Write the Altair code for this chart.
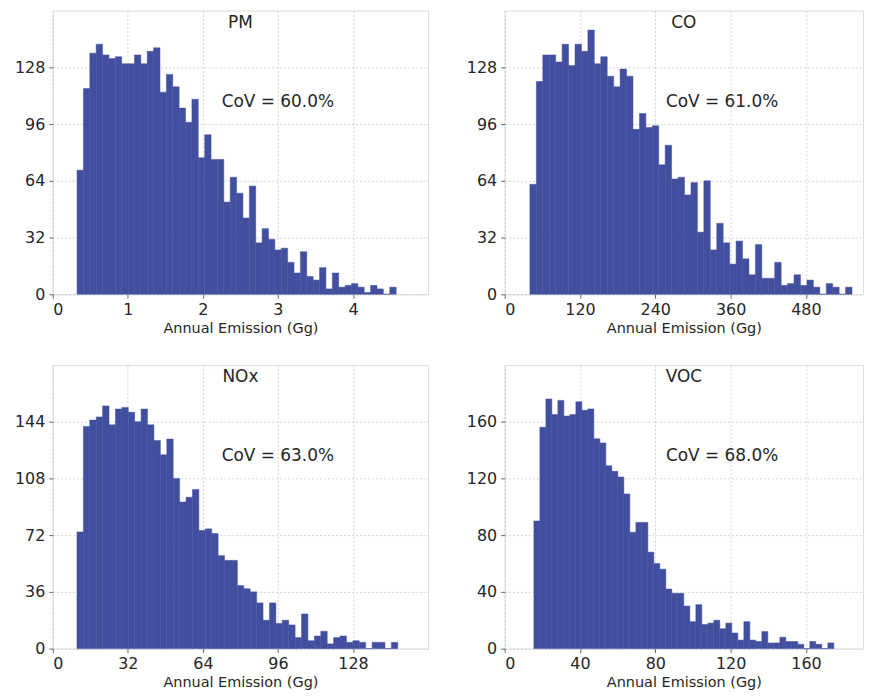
import altair as alt
import numpy as np
import pandas as pd

# ---- data (histogram counts, 50 bins each) ----
pm_counts = [70, 116, 136, 141, 135, 133, 134, 130, 130, 135, 130, 137, 139, 114, 124,
             117, 105, 97, 110, 77, 90, 76, 76, 52, 66, 57, 43, 61, 29, 37,
             31, 25, 26, 18, 12, 24, 10, 8, 15, 3, 12, 4, 5, 6, 4,
             1, 5, 3, 0, 4]
co_counts = [62, 120, 135, 135, 131, 141, 129, 141, 137, 149, 130, 134, 123, 117, 127,
             123, 93, 102, 94, 95, 73, 84, 65, 66, 56, 63, 35, 64, 25, 40,
             29, 17, 30, 20, 11, 28, 9, 9, 18, 5, 6, 11, 5, 8, 4,
             0, 6, 4, 0, 4]
nox_counts = [74, 141, 145, 147, 154, 142, 152, 153, 150, 144, 152, 142, 132, 123, 133,
              108, 93, 96, 101, 75, 76, 73, 59, 56, 56, 40, 38, 36, 29, 18,
              29, 16, 18, 15, 7, 22, 5, 8, 11, 3, 7, 8, 4, 5, 4,
              0, 4, 4, 0, 4]
voc_counts = [90, 156, 176, 165, 175, 164, 165, 174, 168, 169, 148, 145, 129, 125, 121,
              109, 82, 89, 89, 68, 60, 56, 42, 39, 39, 30, 19, 31, 17, 18,
              20, 14, 18, 11, 6, 19, 6, 5, 12, 4, 4, 8, 5, 5, 3,
              0, 5, 3, 0, 4]

panel_names = ["PM", "CO", "NOx", "VOC"]
cov_labels = ["CoV = 60.0%", "CoV = 61.0%", "CoV = 63.0%", "CoV = 68.0%"]
bin_ranges = [(0.323, 4.575), (40.2, 553.5), (10.3, 147.1), (15.5, 174.8)]
x_max = [5, 571, 160, 190.3]
x_ticks = [[0, 1, 2, 3, 4], [0, 120, 240, 360, 480], [0, 32, 64, 96, 128], [0, 40, 80, 120, 160]]
y_max = [160, 160, 180, 200]
y_ticks = [[0, 32, 64, 96, 128], [0, 32, 64, 96, 128], [0, 36, 72, 108, 144], [0, 40, 80, 120, 160]]
x_title = "Annual Emission (Gg)"

all_counts = [pm_counts, co_counts, nox_counts, voc_counts]

FONT = "DejaVu Sans"
TXT = "#262626"
BAR = "#424f9f"
H = 285


def panel(i, width):
    counts = all_counts[i]
    lo, hi = bin_ranges[i]
    edges = np.linspace(lo, hi, len(counts) + 1)
    df = pd.DataFrame({"start": edges[:-1], "end": edges[1:], "count": counts})
    bars = alt.Chart(df).mark_rect(color=BAR, stroke=BAR, strokeWidth=0.5, opacity=1).encode(
        x=alt.X("start:Q",
                scale=alt.Scale(domain=[0, x_max[i]], nice=False, zero=True),
                axis=alt.Axis(values=x_ticks[i], title=x_title, format="d",
                              grid=True, gridDash=[2, 2], gridColor="#c8c8c8", gridWidth=0.8,
                              domain=False, tickSize=4, tickColor="#666666",
                              labelFontSize=16, labelFont=FONT, labelColor=TXT, labelPadding=3,
                              titleFontSize=14.5, titleFont=FONT, titleColor=TXT,
                              titleFontWeight="normal", titlePadding=4)),
        x2="end:Q",
        y=alt.Y("count:Q",
                scale=alt.Scale(domain=[0, y_max[i]], nice=False),
                axis=alt.Axis(values=y_ticks[i], title=None, format="d",
                              grid=True, gridDash=[2, 2], gridColor="#c8c8c8", gridWidth=0.8,
                              domain=False, tickSize=4, tickColor="#666666",
                              labelFontSize=16, labelFont=FONT, labelColor=TXT, labelPadding=4,
                              minExtent=44, maxExtent=44)),
        y2=alt.datum(0),
    )
    name = alt.Chart(pd.DataFrame({"t": [panel_names[i]]})).mark_text(
        font=FONT, fontSize=17, color=TXT, baseline="middle", align="center"
    ).encode(x=alt.value(width / 2), y=alt.value(12), text="t:N")
    cov = alt.Chart(pd.DataFrame({"t": [cov_labels[i]]})).mark_text(
        font=FONT, fontSize=17, color=TXT, baseline="middle", align="left"
    ).encode(x=alt.value(0.45 * width), y=alt.value(92), text="t:N")
    return alt.layer(bars, name, cov).properties(width=width, height=H)


row1 = alt.hconcat(panel(0, 377), panel(1, 360), spacing=31)
row2 = alt.hconcat(panel(2, 377), panel(3, 360), spacing=31)
chart = alt.vconcat(row1, row2, spacing=29).properties(padding=0).configure_view(
    stroke="#7a7a7a", strokeWidth=1
).configure(background="white")

chart.save("out.html", embed_options={"renderer": "svg", "actions": False})
